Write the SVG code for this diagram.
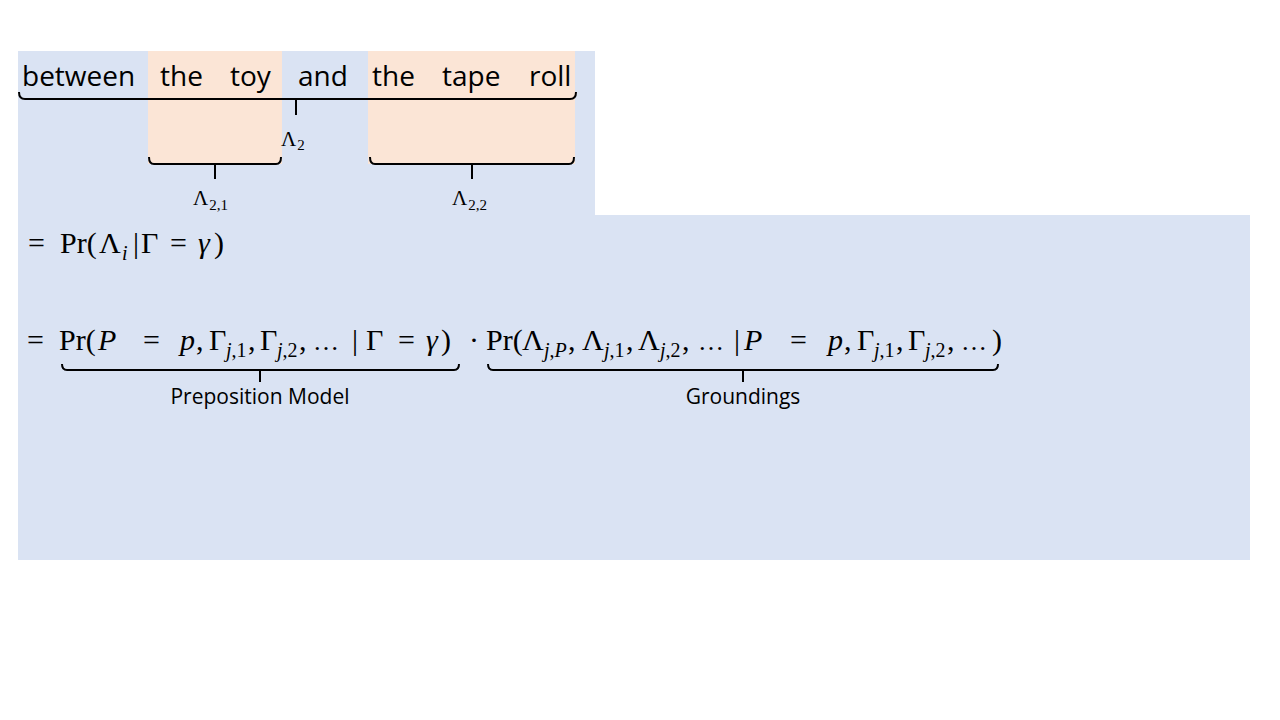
<svg xmlns="http://www.w3.org/2000/svg" width="1280" height="720" viewBox="0 0 1280 720">
<style>
.w{font-family:"Open Sans","Liberation Sans",sans-serif;font-size:28px;fill:#000}
.lbl{font-family:"Open Sans","Liberation Sans",sans-serif;font-size:21px;fill:#000;text-anchor:middle}
.m{font-family:"Liberation Serif","DejaVu Serif",serif;font-size:30px;fill:#000}
.i{font-style:italic}
.s{font-size:20px}
.e{font-size:26px}
.g{font-family:"Liberation Serif","DejaVu Serif",serif;font-size:21px;fill:#000}
.gs{font-size:15px}
.br{fill:none;stroke:#000;stroke-width:2}
</style>
<rect width="1280" height="720" fill="#fff"/>
<g id="background">
<polygon points="18,51 595,51 595,215 1250,215 1250,560 18,560" fill="#DAE3F3"/>
<rect x="148" y="51" width="134" height="113" fill="#FBE5D6"/>
<rect x="368" y="51" width="207" height="113" fill="#FBE5D6"/>
</g>
<g id="sentence">
<text class="w" x="22" y="86">between</text>
<text class="w" x="160" y="86">the</text>
<text class="w" x="230" y="86">toy</text>
<text class="w" x="298" y="86">and</text>
<text class="w" x="372" y="86">the</text>
<text class="w" x="442" y="86">tape</text>
<text class="w" x="529" y="86">roll</text>
</g>
<g id="lambda2">
<text class="g" x="281" y="146">Λ<tspan class="gs" dx="1" dy="4">2</tspan></text>
</g>
<g id="lambda21">
<text class="g" x="193" y="205">Λ<tspan class="gs" dx="1" dy="5">2,1</tspan></text>
</g>
<g id="lambda22">
<text class="g" x="452" y="205">Λ<tspan class="gs" dx="1" dy="5">2,2</tspan></text>
</g>
<g id="eq1">
<text class="m" x="28" y="253">=</text>
<text class="m" x="60" y="253">Pr(</text>
<text class="m" x="99" y="253">Λ</text>
<text class="m i s" x="122" y="260">i</text>
<text class="m" x="133" y="253">|</text>
<text class="m" x="141" y="253">Γ</text>
<text class="m" x="170" y="253">=</text>
<text class="m i" x="198" y="253">γ</text>
<text class="m" x="214" y="253">)</text>
</g>
<g id="eq2">
<text class="m" x="27" y="350">=</text>
<text class="m" x="59" y="350">Pr(</text>
<text class="m i" x="98" y="350">P</text>
<text class="m" x="143" y="350">=</text>
<text class="m i" x="180" y="350">p</text>
<text class="m" x="196" y="350">,</text>
<text class="m" x="209" y="350">Γ</text>
<text class="m s" x="226" y="357"><tspan class="i">j</tspan>,1</text>
<text class="m" x="248" y="350">,</text>
<text class="m" x="260" y="350">Γ</text>
<text class="m s" x="277" y="357"><tspan class="i">j</tspan>,2</text>
<text class="m" x="299" y="350">,</text>
<text class="m e" x="313" y="350">…</text>
<text class="m" x="352" y="350">|</text>
<text class="m" x="366" y="350">Γ</text>
<text class="m" x="398" y="350">=</text>
<text class="m i" x="426" y="350">γ</text>
<text class="m" x="441" y="350">)</text>
<text class="m" x="469" y="350">·</text>
<text class="m" x="486" y="350">Pr(</text>
<text class="m" x="522" y="350">Λ</text>
<text class="m s" x="544" y="357"><tspan class="i">j</tspan>,<tspan class="i">P</tspan></text>
<text class="m" x="568" y="350">,</text>
<text class="m" x="582" y="350">Λ</text>
<text class="m s" x="604" y="357"><tspan class="i">j</tspan>,1</text>
<text class="m" x="626" y="350">,</text>
<text class="m" x="638" y="350">Λ</text>
<text class="m s" x="660" y="357"><tspan class="i">j</tspan>,2</text>
<text class="m" x="682" y="350">,</text>
<text class="m e" x="698" y="350">…</text>
<text class="m" x="734" y="350">|</text>
<text class="m i" x="744" y="350">P</text>
<text class="m" x="790" y="350">=</text>
<text class="m i" x="828" y="350">p</text>
<text class="m" x="844" y="350">,</text>
<text class="m" x="857" y="350">Γ</text>
<text class="m s" x="874" y="357"><tspan class="i">j</tspan>,1</text>
<text class="m" x="896" y="350">,</text>
<text class="m" x="908" y="350">Γ</text>
<text class="m s" x="925" y="357"><tspan class="i">j</tspan>,2</text>
<text class="m" x="947" y="350">,</text>
<text class="m e" x="961" y="350">…</text>
<text class="m" x="992" y="350">)</text>
</g>
<g id="label-preposition">
<text class="lbl" x="260" y="404">Preposition Model</text>
</g>
<g id="label-groundings">
<text class="lbl" x="743" y="404">Groundings</text>
</g>
<g id="connectors">
<path class="br" d="M19,92 Q19,99 25,99 H570 Q576,99 576,92 M296,99 V115"/>
<path class="br" d="M149,157 Q149,164 154,164 H276 Q281,164 281,157 M215,164 V179"/>
<path class="br" d="M370,157 Q370,164 375,164 H569 Q574,164 574,157 M472,164 V179"/>
<path class="br" d="M62,364 Q62,370 67,370 H454 Q459,370 459,364 M260,370 V382"/>
<path class="br" d="M488,364 Q488,370 493,370 H993 Q998,370 998,364 M743,370 V382"/>
</g>
</svg>
